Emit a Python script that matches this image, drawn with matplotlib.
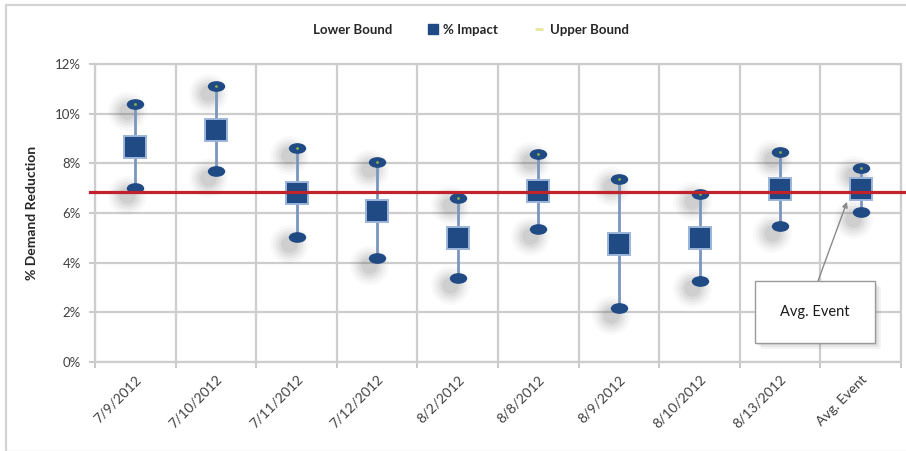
import matplotlib
matplotlib.use("Agg")
import matplotlib.pyplot as plt
import numpy as np
from matplotlib.path import Path
from matplotlib.transforms import Affine2D, offset_copy
from matplotlib.lines import Line2D
from matplotlib.patches import Rectangle
from matplotlib.ticker import FixedLocator, PercentFormatter

plt.rcParams['font.family'] = ['Lato', 'DejaVu Sans']

# ---- data -------------------------------------------------------------
events = ["7/9/2012", "7/10/2012", "7/11/2012", "7/12/2012", "8/2/2012",
          "8/8/2012", "8/9/2012", "8/10/2012", "8/13/2012", "Avg. Event"]
lower_bound = [7.0, 7.7, 5.04, 4.19, 3.39, 5.36, 2.18, 3.27, 5.48, 6.05]
impact = [8.67, 9.35, 6.8, 6.09, 5.0, 6.9, 4.76, 5.0, 6.98, 6.98]
upper_bound = [10.4, 11.1, 8.6, 8.06, 6.6, 8.39, 7.38, 6.77, 8.47, 7.82]
average_line = 6.85
y_ticks = [0, 2, 4, 6, 8, 10, 12]

W, H = 906, 451
fig = plt.figure(figsize=(W / 100, H / 100), dpi=100)


def fx(px):
    return px / W


def fy(py):
    return 1 - py / H


# outer chart frame
fig.patches.append(Rectangle((fx(6), fy(452)), fx(910) - fx(6), fy(5) - fy(452),
                             transform=fig.transFigure, fill=False,
                             edgecolor="#D4D4D4", linewidth=1.6))

ax = fig.add_axes([fx(95), fy(362), fx(901) - fx(95), fy(64) - fy(362)])
x = np.arange(len(events))
ax.set_xlim(-0.5, len(events) - 0.5)
ax.set_ylim(0, 12)

grid_c = "#CDCDCD"
ax.yaxis.set_major_locator(FixedLocator(y_ticks))
ax.yaxis.set_major_formatter(PercentFormatter(decimals=0))
ax.set_xticks(x)
ax.set_xticklabels(events, rotation=45, ha="right", rotation_mode="anchor",
                   fontsize=10, color="#404040")
ax.xaxis.set_minor_locator(FixedLocator(np.arange(-0.5, len(events), 1.0)))
ax.tick_params(axis="x", which="major", length=0, pad=8)
ax.tick_params(axis="x", which="minor", length=4, color="#BFBFBF", width=1.2)
ax.tick_params(axis="y", length=4, color="#BFBFBF", width=1.2,
               labelsize=9.5, labelcolor="#404040", pad=6)
ax.grid(True, axis="y", which="major", color=grid_c, linewidth=1.6)
ax.grid(True, axis="x", which="minor", color=grid_c, linewidth=1.6)
ax.grid(False, axis="x", which="major")
ax.set_axisbelow(True)
for side in ["left", "bottom", "top", "right"]:
    ax.spines[side].set_color(grid_c)
    ax.spines[side].set_linewidth(1.6)

ax.set_ylabel("% Demand Reduction", fontsize=10, fontweight="bold",
              color="#262626", labelpad=12)

# elliptical marker for the bounds
ellipse = Path.unit_circle().transformed(Affine2D().scale(1.0, 0.58))

navy = "#1F4A84"
stem = "#7A96BD"

# soft drop shadows under the bound markers
shadow_tr = offset_copy(ax.transData, fig=fig, x=-8, y=-7, units="dots")
for ms, a in [(28, 0.035), (24, 0.045), (20, 0.06), (16, 0.075), (12, 0.09)]:
    for vals in (lower_bound, upper_bound):
        ax.plot(x, vals, linestyle="none", marker="o", markersize=ms,
                color="#555555", alpha=a, markeredgewidth=0,
                transform=shadow_tr, zorder=2)

# range stems
ax.vlines(x, lower_bound, upper_bound, color=stem, linewidth=2.0, zorder=3)

# bounds
ax.plot(x, lower_bound, linestyle="none", marker=ellipse, markersize=11.5,
        color=navy, markeredgecolor=navy, zorder=4)
ax.plot(x, upper_bound, linestyle="none", marker=ellipse, markersize=11.5,
        color=navy, markeredgecolor=navy, zorder=4)
ax.plot(x, upper_bound, linestyle="none", marker="o", markersize=2,
        color="#8DB04A", markeredgewidth=0, zorder=5)

# impact squares
ax.plot(x, impact, linestyle="none", marker="s", markersize=15.5,
        color=navy, markeredgecolor="#9DB5DA", markeredgewidth=1.4, zorder=6)

# average reference line, running a little past the plot frame
ax.plot([-0.56, len(events) - 0.43], [average_line, average_line],
        color="#C0232B", linewidth=2.3, clip_on=False, zorder=7)

# legend
handles = [
    Line2D([], [], linestyle="none", marker="none"),
    Line2D([], [], linestyle="none", marker="s", markersize=7, color=navy),
    Line2D([], [], linestyle="none", marker="_", markersize=6,
           color="#E6E6A0", markeredgewidth=2),
]
fig.legend(handles, ["Lower Bound", "% Impact", "Upper Bound"],
           loc="center", bbox_to_anchor=(fx(462), fy(30)), ncol=3,
           frameon=False, handlelength=1.0, handletextpad=0.3,
           columnspacing=2.6, labelcolor="#262626",
           prop={"weight": "bold", "size": 9.5})

# callout box for the average event
bx0, by0, bx1, by1 = 755, 281, 875, 343
for off, a in [(6, 0.08), (4, 0.1), (2, 0.12)]:
    fig.patches.append(Rectangle((fx(bx0 + off), fy(by1 + off)),
                                 fx(bx1) - fx(bx0), fy(by0) - fy(by1),
                                 transform=fig.transFigure, facecolor="#707070",
                                 edgecolor="none", alpha=a, zorder=8))
fig.patches.append(Rectangle((fx(bx0), fy(by1)), fx(bx1) - fx(bx0),
                             fy(by0) - fy(by1), transform=fig.transFigure,
                             facecolor="white", edgecolor="#9A9A9A",
                             linewidth=1.0, zorder=9))
fig.text(fx((bx0 + bx1) / 2), fy((by0 + by1) / 2), "Avg. Event",
         ha="center", va="center", fontsize=10.5, color="#1A1A1A", zorder=10)
ax.annotate("", xy=(len(events) - 1 - 0.17, 6.45), xycoords="data",
            xytext=(fx(818), fy(281)), textcoords="figure fraction",
            arrowprops=dict(arrowstyle="-|>", color="#8A8A8A", lw=1.0,
                            mutation_scale=8, shrinkA=0, shrinkB=0),
            zorder=8)

fig.savefig("out.png", dpi=100)
